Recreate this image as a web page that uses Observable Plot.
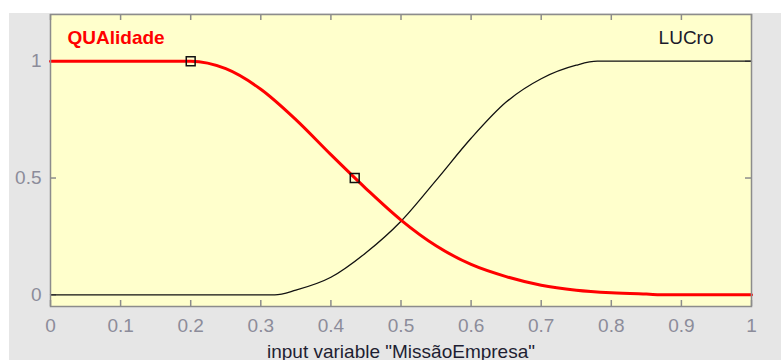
<!DOCTYPE html>
<html>
<head>
<meta charset="utf-8">
<script src="https://cdn.jsdelivr.net/npm/d3@7"></script>
<script src="https://cdn.jsdelivr.net/npm/@observablehq/plot@0.6"></script>
<style>
  html, body { margin: 0; padding: 0; background: #ffffff; }
  #chart svg { display: block; }
</style>
</head>
<body>
<div id="chart"></div>
<script>
// ---- data ----
const redName = "QUAlidade";
const blackName = "LUCro";
const xLabel = "input variable \"MissãoEmpresa\"";

const redX = [0, 0.2, 0.25, 0.30, 0.35, 0.40, 0.45, 0.50, 0.55, 0.60, 0.65, 0.70, 0.75, 0.80, 0.85, 0.88, 1];
const redY = [1, 1, 0.968, 0.88, 0.75, 0.60, 0.455, 0.32, 0.21, 0.13, 0.078, 0.041, 0.02, 0.009, 0.003, 0, 0];

const blackX = [0, 0.32, 0.35, 0.40, 0.45, 0.50, 0.55, 0.60, 0.65, 0.70, 0.75, 0.78, 1];
const blackY = [0, 0, 0.02, 0.075, 0.18, 0.315, 0.49, 0.67, 0.825, 0.925, 0.983, 1, 1];

const markerX = [0.2, 0.434];
const markerY = [1, 0.5];

const xTicks = [0, 0.1, 0.2, 0.3, 0.4, 0.5, 0.6, 0.7, 0.8, 0.9, 1];
const yTicks = [0, 0.5, 1];

// ---- build tables ----
const red = redX.map((x, i) => ({x, y: redY[i]}));
const black = blackX.map((x, i) => ({x, y: blackY[i]}));
const markers = markerX.map((x, i) => ({x, y: markerY[i]}));

const W = 781, H = 360;
const mL = 50, mR = 30, mT = 14, mB = 54;
const innerW = W - mL - mR, innerH = H - mT - mB;
const tickLen = 6;
const frameGray = "#8c8c8c";
const tickColor = "#8c8c9a";

const chart = Plot.plot({
  width: W,
  height: H,
  marginLeft: mL,
  marginRight: mR,
  marginTop: mT,
  marginBottom: mB,
  style: {
    fontFamily: "'Liberation Sans', Arial, sans-serif",
    fontSize: "19px",
    background: "linear-gradient(#fff,#fff) 0 0/100% 13px no-repeat, linear-gradient(#fff,#fff) 0 0/9px 100% no-repeat, #e6e6e6"
  },
  x: {domain: [0, 1]},
  y: {domain: [-0.05, 1.2]},
  marks: [
    Plot.frame({fill: "#ffffcc", stroke: null}),
    // inward ticks (bottom/top/left/right)
    Plot.tickX(xTicks, {x: d => d, stroke: frameGray, strokeWidth: 1.5, insetTop: innerH - tickLen}),
    Plot.tickX(xTicks, {x: d => d, stroke: frameGray, strokeWidth: 1.5, insetBottom: innerH - tickLen}),
    Plot.tickY(yTicks, {y: d => d, stroke: frameGray, strokeWidth: 1.5, insetRight: innerW - tickLen}),
    Plot.tickY(yTicks, {y: d => d, stroke: frameGray, strokeWidth: 1.5, insetLeft: innerW - tickLen}),
    // tick labels
    Plot.axisX({ticks: xTicks, tickSize: 0, tickPadding: 12, tickFormat: d => String(d), color: tickColor, label: null}),
    Plot.axisY({ticks: yTicks, tickSize: 0, tickPadding: 9, tickFormat: d => String(d), color: tickColor, label: null}),
    // curves
    Plot.line(black, {x: "x", y: "y", stroke: "#111111", strokeWidth: 1.3, curve: "monotone-x"}),
    Plot.line(red, {x: "x", y: "y", stroke: "#ff0000", strokeWidth: 3, curve: "monotone-x"}),
    Plot.dot(markers, {x: "x", y: "y", symbol: "square", r: 5, stroke: "#111111", strokeWidth: 1.5, fill: "none"}),
    // series names
    Plot.text([redName], {text: d => d, frameAnchor: "top-left", textAnchor: "start", lineAnchor: "bottom", dx: 17, dy: 29, fill: "#ff0000", fontWeight: "bold", fontSize: 19}),
    Plot.text([blackName], {text: d => d, frameAnchor: "top-right", textAnchor: "end", lineAnchor: "bottom", dx: -38, dy: 29, fill: "#1a1a2a", fontSize: 19}),
    // axis label
    Plot.text([xLabel], {text: d => d, frameAnchor: "bottom", textAnchor: "middle", lineAnchor: "bottom", dy: 51, fill: "#1e1e32", fontSize: 19}),
    Plot.frame({stroke: frameGray, strokeWidth: 1.5})
  ]
});

document.getElementById("chart").appendChild(chart);
</script>
</body>
</html>
